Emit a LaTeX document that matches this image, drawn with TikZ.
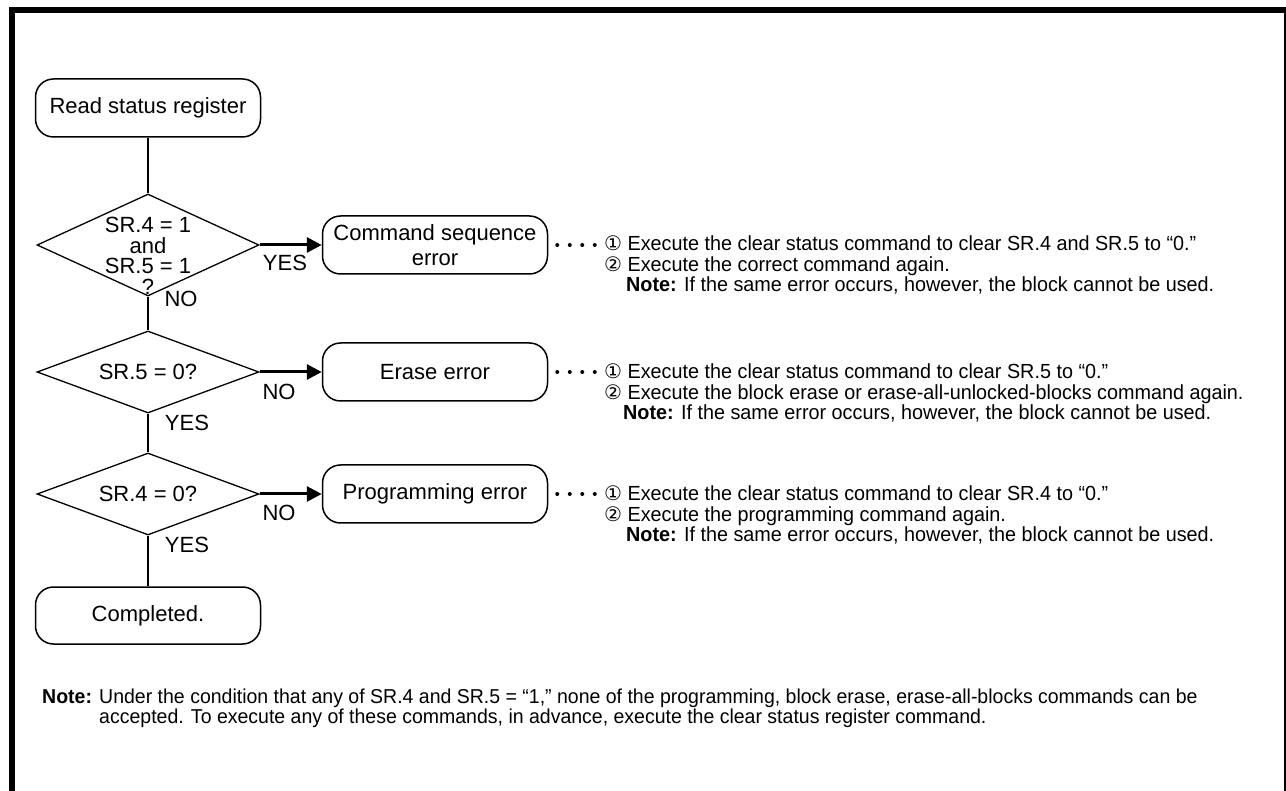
\documentclass[tikz,border=0pt]{standalone}
\usepackage{fontspec}
\setmainfont{Liberation Sans}
\newfontfamily\narrowfont[FakeStretch=0.97]{Liberation Sans}
\newfontfamily\circfont{DejaVu Sans}
\usetikzlibrary{shapes.geometric,arrows.meta}

% circled step numbers in the remarks
\newcommand{\stepno}[1]{{\circfont\fontsize{20}{20}\selectfont #1}}

\begin{document}
\begin{tikzpicture}[
            x = 1pt, y = -1pt, % pixel grid, y runs downwards
            > = {Triangle[length=15pt,width=15pt]}, % solid arrow head
            font = \fontsize{22}{25}\selectfont,
        ]

        \tikzstyle{terminal}=[
            draw = black,
            line width = 1.5pt,
            rounded corners = 18pt,
            minimum width = 225pt,
            minimum height = 58pt,
            inner sep = 2pt,
            align = center
        ]
        \tikzstyle{decision}=[
            draw = black,
            line width = 1.3pt,
            diamond,
            aspect = 2.7,
            minimum width = 222pt,
            minimum height = 82pt,
            inner sep = 0pt
        ]
        \tikzstyle{flow}=[line width = 1.2pt]
        \tikzstyle{branch}=[line width = 3pt, ->]
        \tikzstyle{leader}=[line width = 4pt, line cap = round,
            dash pattern = on 0pt off 12.5pt]
        \tikzstyle{remark}=[anchor = west, align = left, inner sep = 0pt,
            font = \narrowfont\fontsize{20.4}{20.2}\selectfont]

  \useasboundingbox (0,0) rectangle (1286,791);
  \fill[white] (0,0) rectangle (1286,791);

  % frame, open at the bottom
  \draw[line width = 6pt] (12,791) -- (12,10) -- (1286,10);
  \draw[line width = 2pt] (1285,10) -- (1285,791);

  % main column
  \node[terminal] (read) at (148,108) {Read status register};
  \node[decision, aspect = 2.17, minimum height = 102pt] (chk45) at (148,245) {};
  \node[align = center, font = \fontsize{22}{20.5}\selectfont] (q45) at (148,256)
    {SR.4 = 1\\and\\SR.5 = 1\\?};
  \node[decision] (chk5) at (148,372) {SR.5 = 0?};
  \node[decision] (chk4) at (148,494) {SR.4 = 0?};
  \node[terminal, minimum height = 57pt] (done) at (148,615.5) {Completed.};

  % error boxes
  \node[terminal] (seqerr) at (435,245) {Command sequence\\error};
  \node[terminal] (eraseerr) at (435,372) {Erase error};
  \node[terminal] (progerr) at (435,494) {Programming error};

  \draw[flow] (read) -- (chk45);
  \draw[flow] (chk45) -- (chk5);
  \draw[flow] (chk5) -- (chk4);
  \draw[flow] (chk4) -- (done);

  \draw[branch] (chk45) -- (seqerr);
  \draw[branch] (chk5) -- (eraseerr);
  \draw[branch] (chk4) -- (progerr);

  % branch labels
  \node (yes1) at (285,263) {YES};
  \node (no1) at (181,299) {NO};
  \node (no2) at (279,392) {NO};
  \node (yes2) at (187,423) {YES};
  \node (no3) at (279,513) {NO};
  \node (yes3) at (187,545) {YES};

  % dotted leaders to the remarks
  \draw[leader] ([xshift=9pt]seqerr.east) -- ++(38,0);
  \draw[leader] ([xshift=9pt]eraseerr.east) -- ++(38,0);
  \draw[leader] ([xshift=9pt]progerr.east) -- ++(38,0);

  \node[remark] (rm1) at (604,265) {%
    \stepno{①} Execute the clear status command to clear SR.4 and SR.5 to “0.”\\
    \stepno{②} Execute the correct command again.\\
    \hspace*{22pt}\textbf{Note:} If the same error occurs, however, the block cannot be used.};
  \node[remark] (rm2) at (604,393) {%
    \stepno{①} Execute the clear status command to clear SR.5 to “0.”\\
    \stepno{②} Execute the block erase or erase-all-unlocked-blocks command again.\\
    \hspace*{19pt}\textbf{Note:} If the same error occurs, however, the block cannot be used.};
  \node[remark] (rm3) at (604,515) {%
    \stepno{①} Execute the clear status command to clear SR.4 to “0.”\\
    \stepno{②} Execute the programming command again.\\
    \hspace*{22pt}\textbf{Note:} If the same error occurs, however, the block cannot be used.};

  % general note under the chart
  \node[anchor = base west, inner sep = 0pt,
        font = \narrowfont\fontsize{20.1}{20.5}\selectfont] (gennote) at (42,703)
    {\textbf{Note:} \begin{tabular}[t]{@{}l@{}}
      Under the condition that any of SR.4 and SR.5 = “1,” none of the programming, block erase, erase-all-blocks commands can be\\
      accepted. To execute any of these commands, in advance, execute the clear status register command.
    \end{tabular}};

\end{tikzpicture}
\end{document}
